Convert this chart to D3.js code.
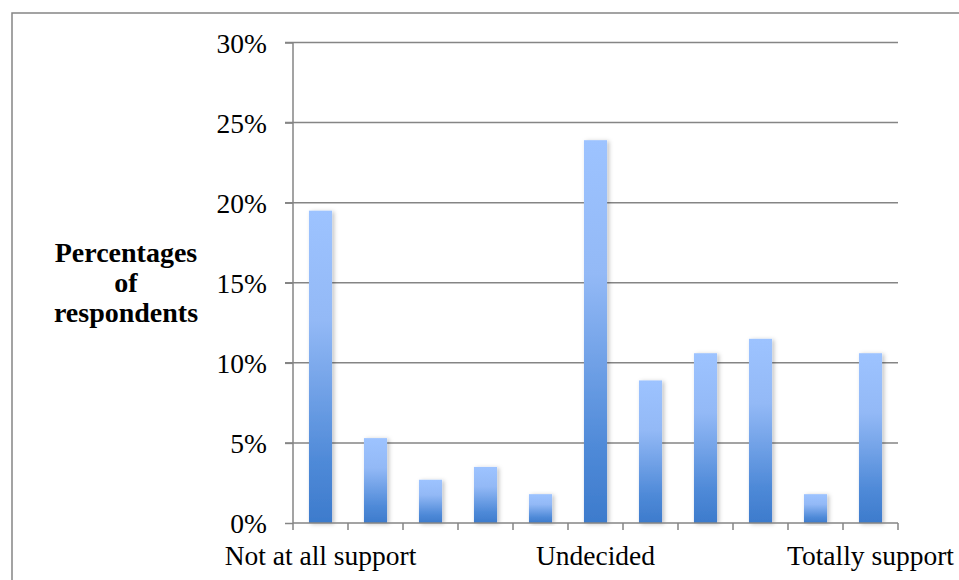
<!DOCTYPE html>
<html lang="en">
<head>
    <meta charset="UTF-8">
    <title>Support bar chart</title>
    <script src="https://d3js.org/d3.v7.min.js"></script>
    <style>
        body { margin: 0; background: #fff; }
        svg text { font-family: "Liberation Serif", "Times New Roman", serif; fill: #000; }
        .grid line { stroke: #858585; stroke-width: 1.5px; }
        .axis path, .axis line { stroke: #858585; stroke-width: 1.5px; }
        .axis text { font-size: 27.5px; }
        .ylabel { font-size: 28px; font-weight: bold; }
    </style>
</head>
<body>
    <svg id="chart" width="959" height="580"></svg>

    <script>
        // scale positions 1..11
        var categories = ["1", "2", "3", "4", "5", "6", "7", "8", "9", "10", "11"];
        var values = [19.5, 5.3, 2.7, 3.5, 1.8, 23.9, 8.9, 10.6, 11.5, 1.8, 10.6];
        var tickLabels = ["Not at all support", "", "", "", "", "Undecided", "", "", "", "", "Totally support"];
        var yTicks = [0, 5, 10, 15, 20, 25, 30];

        var margin = {top: 42.5, left: 293, right: 61, bottom: 57};
        var width = 959 - margin.left - margin.right,
            height = 580 - margin.top - margin.bottom;

        var svg = d3.select("#chart");

        // outer frame (only left and top edges show)
        svg.append("rect")
            .attr("x", 12).attr("y", 13)
            .attr("width", 1000).attr("height", 1000)
            .attr("fill", "none")
            .attr("stroke", "#858585")
            .attr("stroke-width", 1.5);

        var defs = svg.append("defs");
        var grad = defs.append("linearGradient")
            .attr("id", "barGrad")
            .attr("x1", 0).attr("y1", 0).attr("x2", 0).attr("y2", 1);
        grad.append("stop").attr("offset", "0%").attr("stop-color", "#9dc3ff");
        grad.append("stop").attr("offset", "35%").attr("stop-color", "#93b9f6");
        grad.append("stop").attr("offset", "80%").attr("stop-color", "#4f8ad8");
        grad.append("stop").attr("offset", "100%").attr("stop-color", "#3d7bcc");

        var shadow = defs.append("filter").attr("id", "shadow")
            .attr("x", "-30%").attr("y", "-10%").attr("width", "160%").attr("height", "120%");
        shadow.append("feDropShadow")
            .attr("dx", 2).attr("dy", 1).attr("stdDeviation", 2)
            .attr("flood-color", "#000").attr("flood-opacity", 0.25);

        var g = svg.append("g")
            .attr("transform", "translate(" + margin.left + "," + margin.top + ")");

        var x = d3.scaleBand().domain(categories).range([0, width]).paddingInner(0.58).paddingOuter(0.29);
        var xTicks = d3.scaleBand().domain(categories).range([0, width]);
        var y = d3.scaleLinear().domain([0, 30]).range([height, 0]);

        // gridlines
        g.append("g").attr("class", "grid")
            .selectAll("line")
            .data(yTicks.filter(function(d) { return d > 0; }))
            .enter().append("line")
            .attr("x1", -8).attr("x2", width)
            .attr("y1", function(d) { return y(d); })
            .attr("y2", function(d) { return y(d); });

        // bars
        g.selectAll(".bar")
            .data(values)
            .enter().append("rect")
            .attr("class", "bar")
            .attr("x", function(d, i) { return x(categories[i]); })
            .attr("y", function(d) { return y(d); })
            .attr("width", x.bandwidth())
            .attr("height", function(d) { return height - y(d); })
            .attr("fill", "url(#barGrad)")
            .attr("filter", "url(#shadow)");

        // y axis
        var yAxis = g.append("g").attr("class", "axis")
            .call(d3.axisLeft(y).tickValues(yTicks).tickSize(8).tickPadding(18)
                .tickFormat(function(d) { return d + "%"; }));
        yAxis.select(".domain").attr("d", "M0," + y(30) + "V" + y(0));
        yAxis.selectAll("text").attr("dy", "0.36em");

        // x axis: ticks at category boundaries
        var xAxis = g.append("g").attr("class", "axis")
            .attr("transform", "translate(0," + height + ")");
        xAxis.append("path").attr("d", "M0,0H" + width).attr("fill", "none");
        xAxis.selectAll(".tk")
            .data(categories.concat(["end"]))
            .enter().append("line")
            .attr("class", "tk")
            .attr("x1", function(d, i) { return i < categories.length ? xTicks(d) : width; })
            .attr("x2", function(d, i) { return i < categories.length ? xTicks(d) : width; })
            .attr("y1", 0).attr("y2", 7);
        xAxis.selectAll(".lbl")
            .data(tickLabels)
            .enter().append("text")
            .attr("class", "lbl")
            .attr("text-anchor", "middle")
            .attr("x", function(d, i) { return xTicks(categories[i]) + xTicks.bandwidth() / 2; })
            .attr("y", 42)
            .text(function(d) { return d; });

        // y label
        var yl = svg.append("text").attr("class", "ylabel")
            .attr("text-anchor", "middle");
        ["Percentages", "of", "respondents"].forEach(function(t, i) {
            yl.append("tspan").attr("x", 126).attr("y", 262 + i * 30).text(t);
        });
    </script>
</body>
</html>
